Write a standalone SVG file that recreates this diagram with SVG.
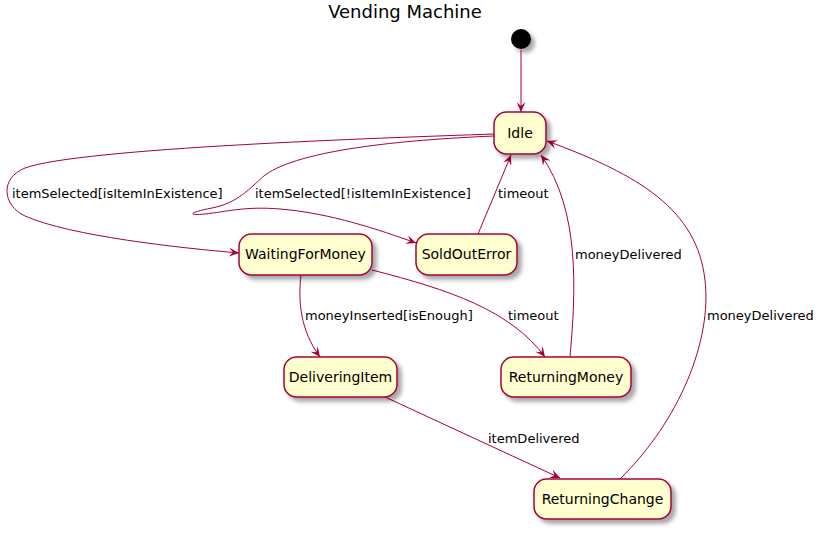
<svg xmlns="http://www.w3.org/2000/svg" width="822" height="533" viewBox="0 0 822 533">
<style>
.node rect{fill:#FEFECE;stroke:#A80036;stroke-width:1.5;filter:url(#sh)}
.node text{font-family:"DejaVu Sans","Liberation Sans",sans-serif;font-size:14px;fill:#000;text-anchor:middle}
.edges path{fill:none;stroke:#A80036;stroke-width:1;marker-end:url(#arr)}
.lbl{font-family:"DejaVu Sans","Liberation Sans",sans-serif;font-size:13px;fill:#000}
.title{font-family:"DejaVu Sans","Liberation Sans",sans-serif;font-size:18px;fill:#000;text-anchor:middle}
</style>
<defs>
<filter id="sh" x="-20%" y="-20%" width="150%" height="160%">
<feDropShadow dx="4" dy="4" stdDeviation="2" flood-color="#000" flood-opacity="0.35"/>
</filter>
<marker id="arr" markerUnits="userSpaceOnUse" markerWidth="11" markerHeight="9" refX="10" refY="4.5" orient="auto">
<path d="M0,0 L10,4.5 L0,9 L4,4.5 Z" fill="#A80036"/>
</marker>
</defs>
<rect width="822" height="533" fill="#fff"/>
<text class="title" x="405" y="18">Vending Machine</text>
<g id="start"><circle cx="521" cy="39" r="10" fill="#000" filter="url(#sh)"/></g>
<g class="edges" id="connectors">
<path d="M521,50 L521,112"/>
<path d="M494,134 C380,138 80,148 25,168 C0,178 2,205 25,216 C70,236 180,248 239,253"/>
<path d="M494,136 C400,140 300,150 265,175 C250,188 238,203 212,208 C190,212 186,216 205,214 C225,212 245,206 280,209 C330,213 380,230 416,243"/>
<path d="M478,234 L511,155"/>
<path d="M570,357 C576,290 580,210 541,155"/>
<path d="M620,479 C680,420 712,340 705,280 C697,210 640,175 547,141"/>
<path d="M301,275 C298,300 300,330 320,357"/>
<path d="M372,270 C450,290 510,310 545,357"/>
<path d="M385,397 L560,478"/>
</g>
<g id="edge-labels">
<text class="lbl" x="12" y="198">itemSelected[isItemInExistence]</text>
<text class="lbl" x="255" y="198">itemSelected[!isItemInExistence]</text>
<text class="lbl" x="498" y="198">timeout</text>
<text class="lbl" x="575" y="259">moneyDelivered</text>
<text class="lbl" x="305" y="320">moneyInserted[isEnough]</text>
<text class="lbl" x="508" y="320">timeout</text>
<text class="lbl" x="707" y="320">moneyDelivered</text>
<text class="lbl" x="488" y="443">itemDelivered</text>
</g>
<g class="node" id="Idle"><rect x="494" y="112" width="52" height="42" rx="12.5"/><text x="520" y="138">Idle</text></g>
<g class="node" id="WaitingForMoney"><rect x="239" y="234" width="133" height="41" rx="12.5"/><text x="305.5" y="259">WaitingForMoney</text></g>
<g class="node" id="SoldOutError"><rect x="416" y="234" width="101" height="41" rx="12.5"/><text x="466.5" y="259">SoldOutError</text></g>
<g class="node" id="DeliveringItem"><rect x="284" y="357" width="113" height="40" rx="12.5"/><text x="340.5" y="382">DeliveringItem</text></g>
<g class="node" id="ReturningMoney"><rect x="501" y="357" width="130" height="40" rx="12.5"/><text x="566" y="382">ReturningMoney</text></g>
<g class="node" id="ReturningChange"><rect x="534" y="479" width="137" height="40" rx="12.5"/><text x="602.5" y="504">ReturningChange</text></g>
</svg>
